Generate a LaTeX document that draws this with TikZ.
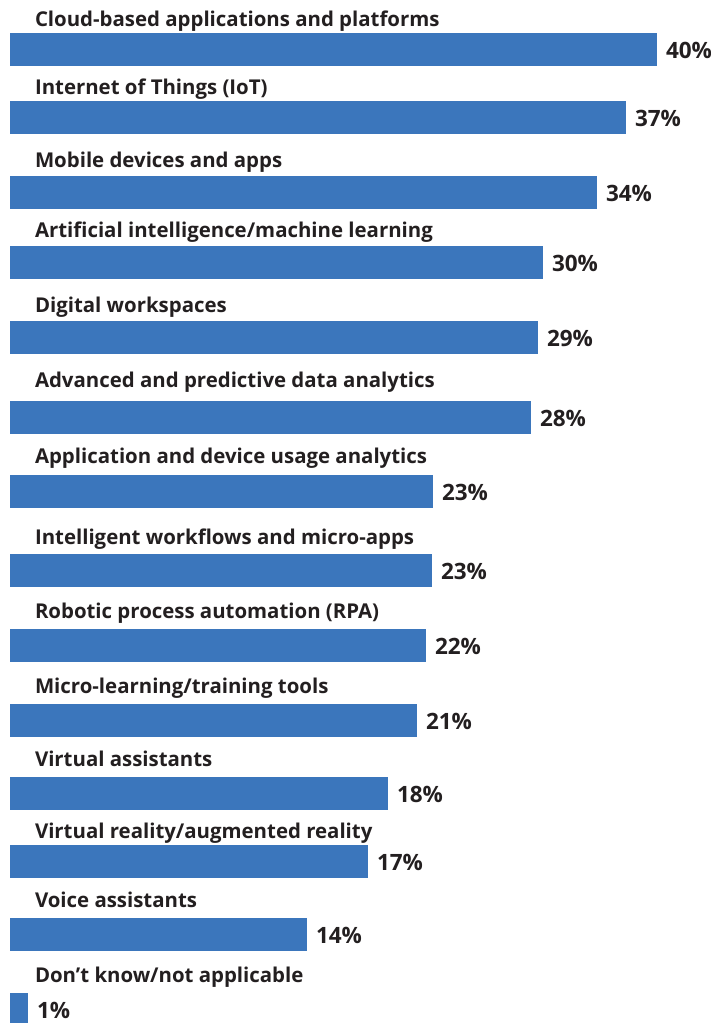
\documentclass[tikz,border=0pt]{standalone}
\usepackage{fontspec}
\setmainfont{Open Sans}
\usepackage{tikz}
\usetikzlibrary{positioning}
\definecolor{barblue}{HTML}{3B76BC}
\definecolor{txtgray}{HTML}{231F20}

\begin{document}
\begin{tikzpicture}[x=1pt,y=-1pt,every node/.style={inner sep=0pt,outer sep=0pt},
	bar/.style={fill=barblue,anchor=north west,minimum height=33pt},
	lbl/.style={anchor=base west,text=txtgray,font=\fontsize{20.4}{24}\selectfont\bfseries},
	pct/.style={anchor=base west,text=txtgray,font=\fontsize{22.5}{27}\selectfont\bfseries}]
	\useasboundingbox (0,0) rectangle (711,1023);
	\foreach \i/\top/\len/\gap/\txt/\val in {
		1/33/647/7/{Cloud-based applications and platforms}/40,
		2/101/616/7/{Internet of Things (IoT)}/37,
		3/176/587/9/{Mobile devices and apps}/34,
		4/246/533/9/{Artificial intelligence/machine learning}/30,
		5/321/528/9/{Digital workspaces}/29,
		6/401/521/14/{Advanced and predictive data analytics}/28,
		7/475/423/12/{Application and device usage analytics}/23,
		8/554/422/10/{Intelligent workflows and micro-apps}/23,
		9/629/416/11/{Robotic process automation (RPA)}/22,
		10/704/407/11/{Micro-learning/training tools}/21,
		11/777/378/11/{Virtual assistants}/18,
		12/845/358/7/{Virtual reality/augmented reality}/17,
		13/918/297/11/{Voice assistants}/14,
		14/993/18/11/{Don’t know/not applicable}/1}
	{
		\node[bar,minimum width=\len pt] (bar\i) at (10,\top) {};
		\node[lbl] (lbl\i) at ([xshift=25pt,yshift=\gap pt]bar\i.north west) {\txt};
		\node[pct] (pct\i) at ([xshift=9pt,yshift=8pt]bar\i.south east) {\val\%};
	}
\end{tikzpicture}
\end{document}
